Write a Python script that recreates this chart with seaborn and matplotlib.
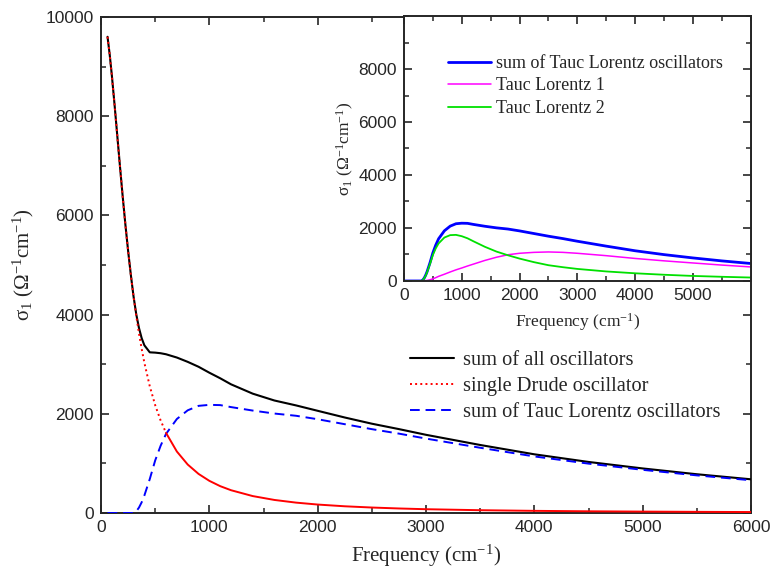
import os
import numpy as np
import pandas as pd
import matplotlib
matplotlib.use("Agg")
import matplotlib.pyplot as plt
import matplotlib.font_manager as fm
import seaborn as sns
from matplotlib.ticker import MultipleLocator, FixedLocator

# ---------------- data ----------------
freq_main = [60, 80, 100, 125, 150, 175, 200, 225, 250, 275, 300, 325, 350, 375, 400,
             450, 500, 550, 600, 700, 800, 900, 1000, 1100, 1200, 1400, 1600, 1800,
             2000, 2250, 2500, 2750, 3000, 3500, 4000, 4500, 5000, 5500, 6000]
drude = [9601, 9242, 8818, 8228, 7607, 6983, 6380, 5811, 5284, 4803, 4367, 3975, 3624,
         3310, 3029, 2554, 2173, 1866, 1615, 1239, 977, 788, 648, 541, 459, 341, 263,
         209, 170, 135, 110, 91, 76, 56, 43, 34, 28, 23, 19]
sum_all = [9601, 9242, 8818, 8228, 7607, 6983, 6380, 5811, 5284, 4803, 4367, 4008, 3732,
           3525, 3381, 3239, 3233, 3221, 3200, 3134, 3047, 2948, 2828, 2716, 2594, 2406,
           2268, 2169, 2060, 1925, 1800, 1691, 1576, 1371, 1183, 1029, 898, 781, 679]

freq_tl = [0, 60, 100, 200, 300, 325, 350, 375, 400, 450, 500, 550, 600, 700, 800, 900,
           1000, 1100, 1200, 1400, 1600, 1800, 2000, 2250, 2500, 2750, 3000, 3500, 4000,
           4500, 5000, 5500, 6000]
tl1 = [0, 0, 0, 0, 0, 3, 8, 15, 22, 45, 80, 125, 175, 255, 340, 420, 490, 565, 635, 775,
       895, 990, 1045, 1080, 1095, 1080, 1045, 955, 850, 760, 680, 600, 530]
tl2 = [0, 0, 0, 0, 0, 30, 100, 200, 330, 640, 980, 1230, 1420, 1640, 1730, 1740, 1690,
       1610, 1500, 1290, 1110, 970, 845, 710, 595, 520, 455, 360, 290, 235, 190, 158, 130]
tl_sum = [0, 0, 0, 0, 0, 33, 108, 215, 352, 685, 1060, 1355, 1595, 1895, 2070, 2160, 2180,
          2175, 2135, 2065, 2005, 1960, 1890, 1790, 1690, 1600, 1500, 1315, 1140, 995,
          870, 758, 660]

main_labels = ["sum of all oscillators", "single Drude oscillator",
               "sum of Tauc Lorentz oscillators"]
inset_labels = ["sum of Tauc Lorentz oscillators", "Tauc Lorentz 1", "Tauc Lorentz 2"]
xlabel = "Frequency (cm$^{-1}$)"
ylabel = "σ$_1$ (Ω$^{-1}$cm$^{-1}$)"

# ---------------- style ----------------
sns.set_style("ticks")
plt.rcParams.update({
    "font.family": ["Liberation Sans", "DejaVu Sans"],
    "mathtext.fontset": "custom",
    "mathtext.rm": "Liberation Serif",
    "mathtext.it": "Liberation Serif:italic",
    "mathtext.bf": "Liberation Serif:bold",
    "xtick.direction": "in",
    "ytick.direction": "in",
    "xtick.top": True,
    "ytick.right": True,
    "axes.linewidth": 1.4,
})
SERIF = ["Liberation Serif", "DejaVu Serif"]

sans_path = None
for f in fm.findSystemFonts():
    if os.path.basename(f) == "LiberationSans-Regular.ttf":
        sans_path = f
        break
if sans_path:
    tick_prop = fm.FontProperties(fname=sans_path, size=12.5)
else:
    tick_prop = fm.FontProperties(family="DejaVu Sans", size=12)


def style_ticklabels(a):
    for lbl in a.get_xticklabels() + a.get_yticklabels():
        lbl.set_fontproperties(tick_prop)


df_main = pd.DataFrame({"freq": freq_main, "drude": drude, "sum_all": sum_all})
df_tl = pd.DataFrame({"freq": freq_tl, "tl1": tl1, "tl2": tl2, "tl_sum": tl_sum})

fig = plt.figure(figsize=(7.73, 5.74), dpi=100)
ax = fig.add_axes([0.1307, 0.1063, 0.8409, 0.8641])

# main curves
sns.lineplot(data=df_main, x="freq", y="sum_all", ax=ax, color="black", lw=1.5,
             label=main_labels[0], zorder=3)
tl_main = df_tl[df_tl["freq"] >= 60]
sns.lineplot(data=tl_main, x="freq", y="tl_sum", ax=ax, color="#0000ff", lw=1.4,
             label=main_labels[2], zorder=4)
ax.lines[-1].set_dashes([5, 3])
steep = df_main[df_main["freq"] <= 600]
flat = df_main[df_main["freq"] >= 600]
sns.lineplot(data=steep, x="freq", y="drude", ax=ax, color="#ff0000", lw=1.4,
             label=main_labels[1], zorder=5)
ax.lines[-1].set_linestyle(":")
sns.lineplot(data=flat, x="freq", y="drude", ax=ax, color="#ff0000", lw=1.4, zorder=5)

ax.set_xlim(0, 6000)
ax.set_ylim(0, 10000)
ax.xaxis.set_major_locator(MultipleLocator(1000))
ax.xaxis.set_minor_locator(MultipleLocator(500))
ax.yaxis.set_major_locator(MultipleLocator(2000))
ax.yaxis.set_minor_locator(MultipleLocator(1000))
ax.tick_params(which="major", length=6, width=1.2, pad=5)
ax.tick_params(which="minor", length=3.5, width=1.1)
ax.set_xlabel(xlabel, fontfamily=SERIF, fontsize=15, labelpad=6)
ax.set_ylabel(ylabel, fontfamily=SERIF, fontsize=15, labelpad=7)

handles, labels = ax.get_legend_handles_labels()
order = [labels.index(l) for l in main_labels]
ax.legend([handles[i] for i in order], [labels[i] for i in order],
          loc="upper left", bbox_to_anchor=(0.462, 0.343), frameon=False,
          prop={"family": SERIF, "size": 14.7}, handlelength=2.2,
          handletextpad=0.4, labelspacing=0.33, borderaxespad=0)

# ---------------- inset ----------------
axin = fig.add_axes([0.5226, 0.5105, 0.4485, 0.4616])
axin.set_facecolor("white")
sns.lineplot(data=df_tl, x="freq", y="tl_sum", ax=axin, color="#0000ff", lw=2.0,
             label=inset_labels[0])
sns.lineplot(data=df_tl, x="freq", y="tl1", ax=axin, color="#ff00ff", lw=1.1,
             label=inset_labels[1])
sns.lineplot(data=df_tl, x="freq", y="tl2", ax=axin, color="#00e000", lw=1.3,
             label=inset_labels[2])
axin.set_xlim(0, 6000)
axin.set_ylim(0, 10000)
axin.xaxis.set_major_locator(FixedLocator([0, 1000, 2000, 3000, 4000, 5000]))
axin.xaxis.set_minor_locator(MultipleLocator(500))
axin.yaxis.set_major_locator(FixedLocator([0, 2000, 4000, 6000, 8000]))
axin.yaxis.set_minor_locator(MultipleLocator(1000))
axin.tick_params(which="major", length=6, width=1.2, pad=5)
axin.tick_params(which="minor", length=3.5, width=1.1)
axin.set_xlabel(xlabel, fontfamily=SERIF, fontsize=12.5, labelpad=6)
axin.set_ylabel(ylabel, fontfamily=SERIF, fontsize=12.5, labelpad=2)
axin.legend(loc="upper left", bbox_to_anchor=(0.105, 0.88), frameon=False,
            prop={"family": SERIF, "size": 13}, handlelength=2.4,
            handletextpad=0.3, labelspacing=0.3, borderaxespad=0)

style_ticklabels(ax)
style_ticklabels(axin)

fig.savefig("out.png", dpi=100)
